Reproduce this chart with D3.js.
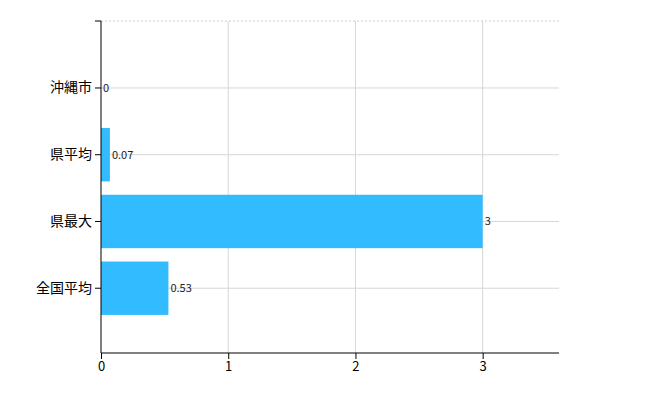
<!DOCTYPE html>
<html>
<head>
<meta charset="utf-8">
<script src="https://d3js.org/d3.v7.min.js"></script>
<style>
  body { margin: 0; }
  text { font-family: "Noto Sans CJK JP", sans-serif; }
</style>
</head>
<body>
<div id="chart"></div>
<script>
  // categories and values
  var categories = ["沖縄市", "県平均", "県最大", "全国平均"];
  var values = [0, 0.07, 3, 0.53];
  var labels = ["0", "0.07", "3", "0.53"];
  var xTicks = [0, 1, 2, 3];

  var plotLeft = 101, plotRight = 559, plotTop = 21, plotBottom = 353;

  var svg = d3.select("#chart").append("svg")
    .attr("width", 650).attr("height", 400);

  var x = d3.scaleLinear().domain([0, 3.6]).range([plotLeft, plotRight]);
  var y = d3.scaleBand().domain(categories)
    .range([54.6, 321.6]).paddingInner(0.2).paddingOuter(0.1);

  // grid
  svg.append("line").attr("x1", plotLeft).attr("x2", plotRight).attr("y1", plotTop).attr("y2", plotTop)
    .attr("stroke", "#ccc").attr("stroke-dasharray", "2,2");
  svg.selectAll(".vg").data(xTicks.slice(1)).enter().append("line")
    .attr("x1", function(d) { return x(d); }).attr("x2", function(d) { return x(d); })
    .attr("y1", plotTop).attr("y2", plotBottom)
    .attr("stroke", "#d6d6d6");
  svg.selectAll(".hg").data(categories).enter().append("line")
    .attr("x1", plotLeft).attr("x2", plotRight)
    .attr("y1", function(d) { return y(d) + y.bandwidth() / 2; })
    .attr("y2", function(d) { return y(d) + y.bandwidth() / 2; })
    .attr("stroke", "#d6d6d6");

  // bars
  svg.selectAll(".bar").data(values).enter().append("rect")
    .attr("x", x(0))
    .attr("y", function(d, i) { return y(categories[i]); })
    .attr("width", function(d) { return x(d) - x(0); })
    .attr("height", y.bandwidth())
    .attr("fill", "#33bbff");

  svg.selectAll(".lbl").data(values).enter().append("text")
    .attr("x", function(d) { return x(d) + 2; })
    .attr("y", function(d, i) { return y(categories[i]) + y.bandwidth() / 2 + 4; })
    .attr("font-size", 11).attr("fill", "#222")
    .text(function(d, i) { return labels[i]; });

  // axes
  svg.append("g").attr("transform", "translate(0," + plotBottom + ")")
    .call(d3.axisBottom(x).tickValues(xTicks).tickFormat(d3.format("d")).tickSizeOuter(0))
    .call(function(g) { g.selectAll("text").attr("font-size", 13).attr("fill", "#000"); })
    .call(function(g) { g.select(".domain").attr("stroke", "#000").attr("d", "M" + plotLeft + ",0H" + plotRight); });

  var yAxis = svg.append("g").attr("transform", "translate(" + plotLeft + ",0)")
    .call(d3.axisLeft(y).tickSizeOuter(0))
    .call(function(g) { g.selectAll("text").attr("font-size", 14).attr("fill", "#000"); })
    .call(function(g) { g.select(".domain").attr("stroke", "#000").attr("d", "M0," + plotTop + "V" + plotBottom); });
  yAxis.append("line").attr("x1", -6).attr("x2", 0).attr("y1", plotTop).attr("y2", plotTop).attr("stroke", "#000");
</script>
</body>
</html>
